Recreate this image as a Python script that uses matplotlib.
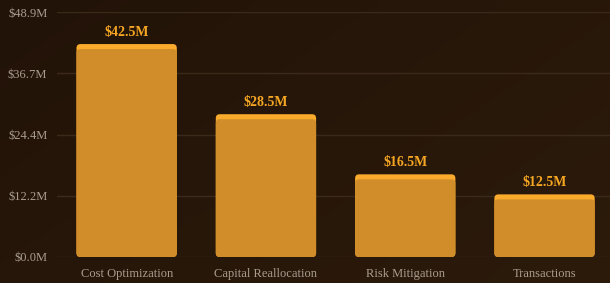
import numpy as np
import matplotlib
matplotlib.use('Agg')
import matplotlib.pyplot as plt
from matplotlib.patches import FancyBboxPatch

categories = ['Cost Optimization', 'Capital Reallocation', 'Risk Mitigation', 'Transactions']
values = [42.5, 28.5, 16.5, 12.5]
y_ticks = [0.0, 12.2, 24.4, 36.7, 48.9]

plt.rcParams['font.family'] = ['Liberation Serif', 'DejaVu Serif']

fig = plt.figure(figsize=(6.1, 2.83), dpi=100)

# background gradient
bg = fig.add_axes([0, 0, 1, 1], zorder=-10)
gx = np.linspace(0, 1, 200)
gy = np.linspace(0, 1, 100)
X, Y = np.meshgrid(gx, gy)
t = 0.6 * X + 0.4 * Y
c0 = np.array([0x22, 0x13, 0x08]) / 255
c1 = np.array([0x2c, 0x1b, 0x0b]) / 255
img = c0[None, None, :] * (1 - t[..., None]) + c1[None, None, :] * t[..., None]
bg.imshow(img, aspect='auto', extent=[0, 1, 0, 1], origin='upper')
bg.axis('off')

ax = fig.add_axes([57 / 610, (283 - 257) / 283, (610 - 57) / 610, (257 - 12) / 283])
ax.patch.set_alpha(0)

x = np.arange(len(categories))
width = 0.72
bars = ax.bar(x, values, width=width, color='none')

px_x = 553 / 3.97
px_y = 245 / 48.9
r = 4 / px_x
asp = (4 / px_y) / r
cap = 5 / px_y

for b, v in zip(bars, values):
    x0 = b.get_x()
    ax.add_patch(FancyBboxPatch((x0, 0), width, v,
                                boxstyle=f'round,pad=0,rounding_size={r}',
                                mutation_aspect=asp, fc='#fbab2c', ec='none', zorder=3))
    ax.add_patch(FancyBboxPatch((x0, 0), width, v - cap,
                                boxstyle=f'round,pad=0,rounding_size={r}',
                                mutation_aspect=asp, fc='#d08d29', ec='none', zorder=4))
    ax.text(b.get_x() + width / 2, v + 1.1, f'${v:.1f}M', ha='center', va='bottom',
            color='#f5a623', fontsize=10, fontweight='bold', zorder=5)

ax.set_xlim(-0.5, 3.47)
ax.set_ylim(0, 48.9)
ax.set_yticks(y_ticks)
ax.set_yticklabels([f'${t:.1f}M' for t in y_ticks])
ax.set_xticks(x)
ax.set_xticklabels(categories)
ax.tick_params(axis='both', length=0, colors='#a99d90', labelsize=9)
ax.tick_params(axis='x', pad=8)
ax.tick_params(axis='y', pad=7)
ax.grid(axis='y', color='#3b2a1a', lw=1)
ax.set_axisbelow(True)
for s in ax.spines.values():
    s.set_visible(False)

fig.savefig('out.png', dpi=100)
